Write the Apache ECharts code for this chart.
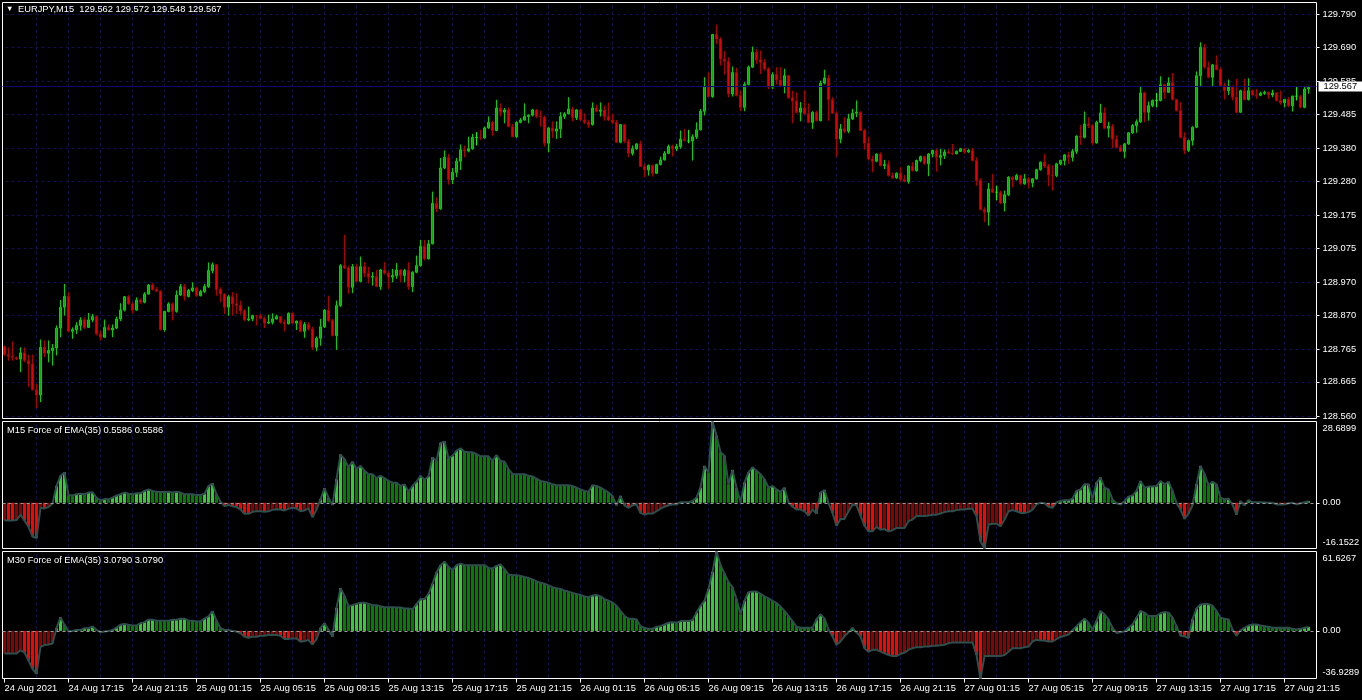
<!DOCTYPE html>
<html><head><meta charset="utf-8">
<script src="https://cdn.jsdelivr.net/npm/echarts@6/dist/echarts.min.js"></script>
<style>html,body{margin:0;padding:0;background:#000;}#c{width:1362px;height:700px;}</style>
</head><body><div id="c"></div>
<script>
// ---------- texts ----------
const symbolTitle = 'EURJPY,M15  129.562 129.572 129.548 129.567';
const force15Title = 'M15 Force of EMA(35) 0.5586 0.5586';
const force30Title = 'M30 Force of EMA(35) 3.0790 3.0790';
// ---------- axis ticks ----------
const timeLabels = ['24 Aug 2021','24 Aug 17:15','24 Aug 21:15','25 Aug 01:15','25 Aug 05:15','25 Aug 09:15','25 Aug 13:15','25 Aug 17:15','25 Aug 21:15','26 Aug 01:15','26 Aug 05:15','26 Aug 09:15','26 Aug 13:15','26 Aug 17:15','26 Aug 21:15','27 Aug 01:15','27 Aug 05:15','27 Aug 09:15','27 Aug 13:15','27 Aug 17:15','27 Aug 21:15'];
const timeLabelBars = [0,16,32,48,64,80,96,112,128,144,160,176,192,208,224,240,256,272,288,304,320];
const gridBars = [8,16,24,32,40,48,56,64,72,80,88,96,104,112,120,128,136,144,152,160,168,176,184,192,200,208,216,224,232,240,248,256,264,272,280,288,296,304,312,320];
const priceTicks = [128.560,128.665,128.765,128.870,128.970,129.075,129.175,129.280,129.380,129.485,129.585,129.690,129.790];
const priceRange = [128.553, 129.827];
const bidPrice = 129.567;
const force15Range = [-16.1522, 28.6899];
const force30Range = [-36.9289, 61.6267];
const force15AxisLabels = ['28.6899','0.00','-16.1522'];
const force30AxisLabels = ['61.6267','0.00','-36.9289'];
// ---------- candles: [open, high, low, close], one per M15 bar ----------
const candles = [
[128.773,128.777,128.745,128.749],[128.749,128.771,128.730,128.744],[128.744,128.789,128.730,128.739],[128.739,128.743,128.732,128.735],[128.735,128.771,128.695,128.754],[128.754,128.771,128.725,128.730],[128.730,128.749,128.649,128.720],[128.720,128.749,128.639,128.641],[128.641,128.659,128.585,128.625],[128.625,128.795,128.603,128.771],
[128.771,128.792,128.741,128.753],[128.753,128.792,128.725,128.761],[128.761,128.781,128.715,128.769],[128.769,128.838,128.746,128.830],[128.830,128.916,128.802,128.894],[128.894,128.965,128.868,128.927],[128.927,128.940,128.817,128.820],[128.820,128.832,128.797,128.825],[128.825,128.848,128.812,128.838],[128.838,128.863,128.822,128.855],
[128.855,128.863,128.827,128.832],[128.832,128.876,128.830,128.855],[128.855,128.873,128.848,128.865],[128.865,128.868,128.807,128.812],[128.812,128.822,128.792,128.802],[128.802,128.856,128.800,128.832],[128.832,128.841,128.822,128.824],[128.824,128.841,128.802,128.830],[128.830,128.865,128.827,128.858],[128.858,128.906,128.851,128.885],
[128.885,128.928,128.881,128.926],[128.926,128.931,128.902,128.904],[128.904,128.909,128.875,128.885],[128.885,128.924,128.883,128.916],[128.916,128.921,128.904,128.909],[128.909,128.940,128.906,128.934],[128.934,128.965,128.932,128.962],[128.962,128.968,128.945,128.948],[128.948,128.955,128.940,128.943],[128.943,128.946,128.822,128.825],
[128.825,128.883,128.819,128.881],[128.881,128.909,128.878,128.904],[128.904,128.909,128.853,128.881],[128.881,128.945,128.877,128.931],[128.931,128.965,128.929,128.957],[128.957,128.965,128.914,128.927],[128.927,128.950,128.924,128.945],[128.945,128.970,128.940,128.953],[128.953,128.957,128.926,128.929],[128.929,128.947,128.927,128.942],
[128.942,128.965,128.937,128.957],[128.957,129.031,128.953,129.006],[129.006,129.031,128.998,129.024],[129.024,129.026,128.929,128.948],[128.948,128.955,128.909,128.934],[128.934,128.936,128.873,128.894],[128.894,128.931,128.868,128.926],[128.926,128.940,128.868,128.904],[128.904,128.936,128.873,128.899],[128.899,128.914,128.871,128.883],
[128.883,128.888,128.851,128.855],[128.855,128.896,128.851,128.858],[128.858,128.871,128.851,128.868],[128.868,128.869,128.838,128.867],[128.867,128.873,128.858,128.860],[128.860,128.865,128.830,128.845],[128.845,128.871,128.843,128.848],[128.848,128.875,128.841,128.858],[128.858,128.871,128.856,128.865],[128.865,128.867,128.843,128.848],
[128.848,128.856,128.820,128.843],[128.843,128.878,128.841,128.875],[128.875,128.878,128.843,128.845],[128.845,128.853,128.824,128.851],[128.851,128.855,128.817,128.820],[128.820,128.848,128.800,128.841],[128.841,128.848,128.822,128.827],[128.827,128.834,128.763,128.771],[128.771,128.804,128.759,128.799],[128.799,128.858,128.776,128.834],
[128.834,128.888,128.830,128.885],[128.885,128.929,128.848,128.853],[128.853,128.858,128.804,128.807],[128.807,128.914,128.763,128.899],[128.899,129.026,128.894,129.021],[129.021,129.116,129.011,129.014],[129.014,129.021,128.935,128.955],[128.955,129.026,128.937,129.018],[129.018,129.026,128.970,128.973],[128.973,129.049,128.970,129.018],
[129.018,129.032,128.986,128.998],[128.998,129.018,128.967,128.986],[128.986,129.001,128.960,128.988],[128.988,129.008,128.955,128.957],[128.957,129.011,128.947,129.008],[129.008,129.032,128.994,128.998],[128.998,129.004,128.950,128.986],[128.986,129.011,128.970,128.991],[128.991,129.029,128.981,129.008],[129.008,129.011,128.970,128.991],
[128.991,129.011,128.970,129.006],[129.006,129.032,128.947,128.957],[128.957,129.004,128.940,129.001],[129.001,129.052,128.998,129.021],[129.021,129.100,129.018,129.080],[129.080,129.100,129.037,129.042],[129.042,129.100,129.040,129.088],[129.088,129.248,129.086,129.212],[129.212,129.231,129.185,129.195],[129.195,129.351,129.192,129.320],
[129.320,129.374,129.317,129.353],[129.353,129.363,129.269,129.284],[129.284,129.320,129.271,129.307],[129.307,129.351,129.292,129.341],[129.341,129.392,129.314,129.376],[129.376,129.389,129.353,129.372],[129.372,129.416,129.368,129.379],[129.379,129.425,129.376,129.414],[129.414,129.430,129.389,129.414],[129.414,129.437,129.406,129.412],
[129.412,129.447,129.410,129.443],[129.443,129.478,129.440,129.460],[129.460,129.465,129.419,129.435],[129.435,129.529,129.433,129.504],[129.504,129.518,129.478,129.491],[129.491,129.504,129.457,129.498],[129.498,129.506,129.445,129.447],[129.447,129.455,129.414,129.416],[129.416,129.463,129.412,129.460],[129.460,129.473,129.457,129.467],
[129.467,129.518,129.465,129.478],[129.478,129.484,129.457,129.482],[129.482,129.501,129.478,129.498],[129.498,129.501,129.473,129.478],[129.478,129.496,129.447,129.476],[129.476,129.481,129.386,129.396],[129.396,129.445,129.368,129.443],[129.443,129.463,129.412,129.433],[129.433,129.463,129.409,129.440],[129.440,129.491,129.412,129.478],
[129.478,129.491,129.470,129.486],[129.486,129.537,129.484,129.501],[129.501,129.508,129.463,129.474],[129.474,129.501,129.467,129.498],[129.498,129.501,129.465,129.467],[129.467,129.488,129.455,129.460],[129.460,129.467,129.443,129.453],[129.453,129.521,129.450,129.504],[129.504,129.514,129.491,129.494],[129.494,129.521,129.478,129.498],
[129.498,129.511,129.465,129.478],[129.478,129.521,129.465,129.467],[129.467,129.486,129.455,129.460],[129.460,129.467,129.396,129.399],[129.399,129.455,129.396,129.453],[129.453,129.455,129.396,129.402],[129.402,129.409,129.353,129.365],[129.365,129.389,129.358,129.379],[129.379,129.396,129.376,129.394],[129.394,129.404,129.323,129.325],
[129.325,129.333,129.292,129.314],[129.314,129.331,129.297,129.328],[129.328,129.331,129.294,129.304],[129.304,129.333,129.302,129.331],[129.331,129.355,129.328,129.345],[129.345,129.372,129.343,129.365],[129.365,129.392,129.363,129.386],[129.386,129.392,129.355,129.379],[129.379,129.394,129.372,129.386],[129.386,129.435,129.379,129.409],
[129.409,129.440,129.402,129.404],[129.403,129.437,129.396,129.403],[129.403,129.423,129.343,129.416],[129.416,129.460,129.409,129.437],[129.437,129.501,129.435,129.494],[129.494,129.598,129.481,129.570],[129.570,129.613,129.537,129.539],[129.539,129.731,129.535,129.729],[129.729,129.759,129.700,129.715],[129.715,129.721,129.634,129.654],
[129.654,129.678,129.606,129.647],[129.647,129.659,129.537,129.547],[129.547,129.631,129.539,129.613],[129.613,129.627,129.539,129.542],[129.542,129.557,129.494,129.506],[129.506,129.583,129.494,129.576],[129.576,129.634,129.573,129.629],[129.629,129.692,129.627,129.675],[129.675,129.685,129.639,129.651],[129.651,129.680,129.608,129.644],
[129.644,129.654,129.618,129.624],[129.624,129.629,129.562,129.568],[129.568,129.613,129.562,129.606],[129.606,129.629,129.576,129.590],[129.590,129.629,129.568,129.573],[129.573,129.624,129.549,129.603],[129.603,129.605,129.532,129.535],[129.535,129.557,129.457,129.525],[129.525,129.552,129.486,129.491],[129.491,129.522,129.463,129.504],
[129.504,129.557,129.484,129.486],[129.486,129.518,129.457,129.460],[129.460,129.494,129.440,129.491],[129.491,129.496,129.463,129.465],[129.465,129.588,129.463,129.580],[129.580,129.621,129.576,129.596],[129.596,129.606,129.465,129.529],[129.529,129.537,129.486,129.488],[129.488,129.494,129.355,129.409],[129.409,129.455,129.396,129.440],
[129.440,129.476,129.427,129.433],[129.433,129.486,129.427,129.471],[129.471,129.501,129.467,129.488],[129.488,129.527,129.476,129.491],[129.491,129.494,129.433,129.435],[129.435,129.440,129.376,129.396],[129.396,129.416,129.343,129.348],[129.348,129.358,129.307,129.341],[129.341,129.365,129.338,129.363],[129.363,129.368,129.325,129.328],
[129.328,129.345,129.317,129.331],[129.331,129.343,129.294,129.297],[129.297,129.307,129.287,129.290],[129.290,129.307,129.287,129.304],[129.304,129.323,129.279,129.285],[129.285,129.299,129.277,129.279],[129.279,129.328,129.272,129.326],[129.326,129.338,129.309,129.312],[129.312,129.346,129.309,129.343],[129.343,129.358,129.338,129.355],
[129.355,129.358,129.330,129.333],[129.333,129.366,129.295,129.363],[129.363,129.376,129.353,129.374],[129.374,129.379,129.309,129.353],[129.353,129.379,129.328,129.358],[129.358,129.377,129.348,129.369],[129.369,129.377,129.363,129.366],[129.366,129.394,129.360,129.364],[129.364,129.374,129.362,129.371],[129.371,129.381,129.369,129.379],
[129.379,129.381,129.363,129.369],[129.369,129.379,129.367,129.374],[129.374,129.381,129.340,129.343],[129.343,129.353,129.266,129.282],[129.282,129.289,129.190,129.193],[129.193,129.200,129.154,129.185],[129.185,129.274,129.144,129.256],[129.256,129.302,129.244,129.246],[129.246,129.266,129.221,129.246],[129.246,129.251,129.210,129.213],
[129.213,129.251,129.187,129.238],[129.238,129.295,129.234,129.292],[129.292,129.295,129.261,129.285],[129.285,129.302,129.282,129.297],[129.297,129.299,129.269,129.272],[129.272,129.302,129.269,129.287],[129.287,129.292,129.258,129.275],[129.275,129.289,129.261,129.287],[129.287,129.318,129.285,129.315],[129.315,129.340,129.312,129.338],
[129.338,129.363,129.320,129.326],[129.326,129.333,129.264,129.299],[129.299,129.328,129.251,129.297],[129.297,129.336,129.292,129.333],[129.333,129.346,129.328,129.343],[129.343,129.363,129.328,129.360],[129.360,129.369,129.333,129.353],[129.353,129.379,129.340,129.371],[129.371,129.420,129.363,129.418],[129.418,129.452,129.391,129.414],
[129.414,129.493,129.411,129.455],[129.455,129.476,129.442,129.450],[129.450,129.455,129.391,129.397],[129.397,129.465,129.395,129.460],[129.460,129.517,129.458,129.489],[129.489,129.506,129.440,129.442],[129.442,129.462,129.414,129.448],[129.448,129.455,129.381,129.409],[129.409,129.420,129.381,129.384],[129.384,129.391,129.369,129.371],
[129.371,129.397,129.350,129.394],[129.394,129.430,129.391,129.428],[129.428,129.455,129.425,129.450],[129.450,129.469,129.428,129.462],[129.462,129.571,129.458,129.550],[129.550,129.554,129.460,129.491],[129.491,129.524,129.465,129.511],[129.511,129.530,129.506,129.527],[129.527,129.550,129.506,129.527],[129.527,129.601,129.524,129.575],
[129.575,129.578,129.532,129.552],[129.552,129.598,129.550,129.581],[129.581,129.611,129.527,129.530],[129.530,129.532,129.493,129.496],[129.496,129.522,129.411,129.414],[129.414,129.430,129.363,129.374],[129.374,129.407,129.369,129.404],[129.404,129.448,129.389,129.445],[129.445,129.616,129.442,129.603],[129.603,129.705,129.568,129.690],
[129.690,129.700,129.624,129.629],[129.629,129.646,129.595,129.598],[129.598,129.639,129.568,129.636],[129.636,129.665,129.619,129.622],[129.622,129.629,129.571,129.573],[129.573,129.581,129.530,129.557],[129.557,129.591,129.544,129.568],[129.568,129.573,129.527,129.537],[129.537,129.593,129.489,129.491],[129.491,129.560,129.489,129.557],
[129.557,129.593,129.527,129.530],[129.530,129.595,129.527,129.557],[129.557,129.560,129.542,129.544],[129.544,129.562,129.532,129.543],[129.543,129.554,129.540,129.549],[129.549,129.557,129.544,129.552],[129.552,129.554,129.532,129.544],[129.544,129.560,129.537,129.550],[129.550,129.552,129.524,129.527],[129.527,129.557,129.514,129.520],
[129.520,129.532,129.506,129.530],[129.530,129.537,129.506,129.511],[129.511,129.542,129.493,129.540],[129.540,129.568,129.527,129.540],[129.540,129.544,129.503,129.506],[129.506,129.568,129.503,129.562],[129.562,129.572,129.548,129.567]
];
// ---------- M15 Force of EMA(35), one value per M15 bar ----------
const force15 = [
-6.2,-6.3,-6.3,-6.1,-4.2,-6.3,-8.5,-11.9,-12.5,-1.8,
-2.0,-1.5,-0.3,5.9,9.5,10.7,2.7,2.6,3.0,3.2,
3.0,3.6,3.7,1.8,0.8,1.3,1.2,1.8,2.5,3.0,
3.6,3.2,3.0,3.4,3.4,4.2,4.7,4.2,3.9,3.8,
3.8,3.9,3.6,3.9,3.6,3.0,3.0,3.0,2.7,2.7,
3.2,5.9,6.8,3.0,0.4,-1.2,-0.8,-1.2,-1.5,-2.4,
-3.9,-3.9,-3.2,-3.0,-3.0,-3.2,-3.0,-2.5,-2.3,-2.4,
-2.7,-2.1,-1.8,-2.0,-3.0,-2.7,-2.0,-5.1,-2.4,1.2,
5.1,1.8,-0.8,8.3,17.0,15.4,12.5,14.5,11.9,13.0,
11.3,10.1,10.1,8.7,9.5,8.7,7.7,7.1,7.1,5.9,
6.5,3.8,5.9,7.4,9.5,8.1,9.3,16.0,14.8,21.1,
21.6,15.7,16.6,18.4,19.2,18.0,17.8,17.8,17.2,16.4,
16.4,16.4,14.8,16.8,14.8,14.5,11.9,10.1,10.1,10.1,
10.1,9.5,9.3,8.5,7.7,7.4,7.1,6.5,6.2,6.2,
6.2,6.2,5.9,5.3,4.7,4.2,3.8,6.2,5.9,5.3,
4.5,3.6,2.4,-0.9,2.4,-0.9,-1.8,-0.9,-0.6,-3.6,
-4.2,-3.8,-3.8,-3.0,-2.1,-1.4,-0.9,-0.6,-0.6,0.2,
0.2,0.2,0.6,1.8,5.3,13.0,10.7,28.69,23.7,17.8,
16.6,6.5,11.6,5.3,0.2,7.1,10.7,12.5,11.3,10.1,
8.3,5.3,5.9,4.7,3.8,5.3,0.1,-1.4,-2.4,-2.4,
-3.0,-4.5,-2.4,-3.8,3.6,4.5,-0.1,-3.6,-8.1,-5.7,
-5.7,-3.0,-0.7,-0.9,-4.5,-8.1,-10.1,-10.1,-8.5,-9.5,
-9.3,-10.1,-9.7,-8.9,-8.9,-8.9,-6.5,-5.9,-4.7,-4.7,
-4.7,-4.5,-4.2,-4.2,-3.8,-3.3,-3.0,-3.0,-2.6,-2.4,
-2.4,-2.1,-2.1,-4.7,-13.6,-16.15,-7.7,-7.4,-7.4,-8.3,
-5.9,-3.0,-2.6,-3.0,-3.6,-3.6,-3.3,-2.4,-0.6,0.05,
-0.2,-1.4,-1.8,0.1,0.6,0.9,0.9,1.4,4.2,4.7,
6.5,6.5,1.2,7.1,8.9,5.3,4.7,1.2,-0.2,-0.6,
0.6,2.1,2.6,4.2,7.7,5.3,5.7,5.7,5.9,7.7,
6.5,7.4,4.2,-0.1,-2.4,-5.7,-3.8,-0.9,6.5,13.0,
10.1,6.2,7.4,6.5,1.8,1.2,1.4,-0.6,-4.2,0.6,
-0.9,0.9,0.2,0.2,0.2,0.1,0.0,0.0,-0.6,-0.6,
-0.6,-0.2,0.0,-0.6,-0.2,0.2,0.5586
];
// ---------- M30 Force of EMA(35), as drawn on each M15 bar ----------
const force30 = [
-17.6,-17.6,-17.6,-17.6,-15.0,-16.8,-22.9,-29.5,-33.4,-12.4,
-11.0,-10.5,-9.7,2.1,10.5,4.7,-0.5,0.0,0.8,0.8,
2.1,2.1,3.4,0.8,-1.0,-0.5,0.0,0.8,2.6,4.7,
5.3,4.7,4.2,4.2,6.0,6.8,8.7,8.7,7.9,7.9,
7.9,7.9,8.7,8.7,9.5,9.5,7.9,7.9,7.4,7.4,
9.5,11.3,15.3,7.9,2.1,0.8,0.8,0.0,-0.5,-1.8,
-4.5,-5.3,-4.5,-4.5,-3.7,-3.7,-3.2,-3.2,-3.2,-3.7,
-6.3,-6.3,-5.8,-5.8,-8.4,-7.9,-7.1,-10.5,-6.3,2.1,
6.0,0.8,-4.5,17.9,33.2,27.1,19.2,20.0,21.0,21.8,
21.8,21.0,20.0,20.0,19.2,18.4,18.4,18.4,18.2,18.2,
17.4,17.4,16.8,20.8,24.7,24.7,28.7,36.6,45.3,51.0,
53.7,49.7,47.0,51.0,52.1,51.0,51.0,51.0,51.0,51.0,
51.0,48.9,48.4,50.5,51.6,47.9,43.7,43.2,43.2,42.6,
41.8,41.1,40.0,38.4,37.4,36.6,35.3,33.9,33.2,32.6,
31.3,30.5,29.5,28.7,27.9,26.8,26.1,27.4,27.9,26.8,
24.7,23.4,22.1,19.5,15.5,11.6,9.5,9.5,8.9,3.7,
2.4,1.6,1.6,3.2,3.7,5.0,6.3,6.8,6.3,7.6,
7.6,7.6,8.4,14.2,19.5,23.4,32.6,45.8,61.63,51.0,
44.5,37.9,33.9,24.7,12.9,23.4,30.0,30.5,30.5,28.7,
26.8,25.3,23.4,21.6,18.9,15.5,11.6,7.6,3.2,2.4,
2.4,2.4,2.4,8.9,12.9,9.5,1.1,-4.2,-10.8,-8.2,
-4.2,-1.1,2.4,-1.1,-4.2,-13.4,-16.1,-14.7,-14.7,-16.1,
-17.4,-18.7,-19.5,-19.5,-17.9,-16.8,-14.7,-13.4,-12.6,-12.6,
-12.1,-12.1,-11.6,-11.6,-11.1,-10.8,-9.5,-8.9,-8.9,-8.9,
-8.9,-8.9,-8.9,-18.7,-36.93,-19.5,-19.5,-19.5,-19.5,-19.5,
-18.7,-16.1,-13.4,-13.4,-13.4,-12.6,-12.1,-8.2,-6.8,-7.4,
-7.4,-8.2,-8.2,-6.3,-4.7,-3.7,-2.9,0.5,3.7,6.8,
9.5,6.3,1.1,7.6,15.5,12.9,8.9,2.4,-1.6,-1.1,
-0.3,2.4,5.0,10.3,15.5,14.2,11.6,11.6,11.6,13.7,
14.7,14.2,10.3,3.7,-3.7,-4.2,-5.5,8.9,17.4,20.5,
20.8,20.8,19.5,15.5,10.3,9.5,8.9,1.1,-3.7,0.5,
2.4,4.2,5.0,5.0,4.2,3.7,3.2,2.4,2.4,2.4,
2.4,2.4,1.6,1.1,1.6,2.4,3.079
];

// ---------- styles ----------
const FONT = 'Tahoma, "Liberation Sans", Arial, sans-serif';
const FS = 9.3;
const GRIDC = '#12124e';
const BULL_FILL = '#00b400', BULL_LINE = '#00d400';
const BEAR_FILL = '#e80000', BEAR_LINE = '#b00000';
const DOJI = '#00ff00';
const UP_RISE = '#32cd32', UP_FALL = '#008000', DN_FALL = '#ff0000', DN_RISE = '#8b0000';
const LINEC = '#2f4f4f';

function histColors(vals) {
  const out = []; let prev = null;
  vals.forEach((v, i) => {
    const p = i > 0 ? vals[i - 1] : v;
    let c;
    if (v >= 0) c = v > p ? UP_RISE : v < p ? UP_FALL : (prev === UP_RISE || prev === UP_FALL ? prev : UP_RISE);
    else c = v < p ? DN_FALL : v > p ? DN_RISE : (prev === DN_FALL || prev === DN_RISE ? prev : DN_RISE);
    out.push(c); prev = c;
  });
  return out;
}
function histData(vals) {
  const cols = histColors(vals);
  return vals.map((v, i) => ({ value: [i, v], itemStyle: { color: cols[i] } }));
}
const candleData = candles.map((r, i) => {
  const item = { value: [i, r[0], r[3], r[2], r[1]] };
  if (r[0] === r[3]) item.itemStyle = { color: DOJI, color0: DOJI, borderColor: DOJI, borderColor0: DOJI, borderColorDoji: DOJI };
  return item;
});

const X0 = -0.5, X1 = 328;
const grids = [
  { left: 2.5, width: 1314, top: 2.5, height: 416 },
  { left: 2.5, width: 1314, top: 421.5, height: 127 },
  { left: 2.5, width: 1314, top: 551.5, height: 127 }
].map(g => Object.assign(g, { show: true, borderColor: '#ffffff', borderWidth: 1, backgroundColor: 'transparent', containLabel: false, outerBoundsMode: 'none' }));

const dashStyle = { color: GRIDC, type: [3, 3], dashOffset: 3, width: 1 };
const noLine = { show: false, onZero: false };
function gridX(idx) {
  return { type: 'value', gridIndex: idx, min: X0, max: X1, axisLine: noLine,
    axisTick: { show: false, customValues: gridBars }, axisLabel: { show: false },
    splitLine: { show: true, lineStyle: dashStyle } };
}
function panelY(idx, range, labels, dMax, dMin) {
  const vals = [range[1] - dMax, 0, range[0] + dMin];
  return { type: 'value', gridIndex: idx, position: 'right', min: range[0], max: range[1],
    axisLine: noLine,
    axisTick: { show: true, customValues: [0], length: 3, lineStyle: { color: '#ffffff' } },
    axisLabel: { customValues: vals, color: '#ffffff', fontSize: FS, fontFamily: FONT, margin: 6,
      formatter: v => labels[vals.indexOf(v)] },
    splitLine: { show: false } };
}
const txt = (text, left, top, size) => ({ text, left, top, padding: 0,
  textStyle: { color: '#ffffff', fontSize: size || FS, fontWeight: 'normal', fontFamily: FONT } });

const chart = echarts.init(document.getElementById('c'), null, { renderer: 'canvas' });
chart.setOption({
  backgroundColor: '#000000',
  animation: false,
  title: [ txt('▼', 6, 5, 7.5), txt(symbolTitle, 18, 5), txt(force15Title, 7, 426), txt(force30Title, 7, 556) ],
  grid: grids,
  xAxis: [ gridX(0), gridX(1), gridX(2),
    { type: 'value', gridIndex: 2, position: 'bottom', min: X0, max: X1, axisLine: noLine,
      axisTick: { show: true, customValues: timeLabelBars, length: 4, lineStyle: { color: '#ffffff' } },
      axisLabel: { customValues: timeLabelBars, color: '#ffffff', fontSize: FS, fontFamily: FONT, align: 'left', margin: 5,
        formatter: v => timeLabels[timeLabelBars.indexOf(v)] },
      splitLine: { show: false } } ],
  yAxis: [
    { type: 'value', gridIndex: 0, position: 'right', min: priceRange[0], max: priceRange[1],
      axisLine: noLine,
      axisTick: { show: true, customValues: priceTicks, length: 3, lineStyle: { color: '#ffffff' } },
      axisLabel: { customValues: priceTicks, color: '#ffffff', fontSize: FS, fontFamily: FONT, margin: 6, formatter: v => v.toFixed(3) },
      splitLine: { show: true, lineStyle: dashStyle } },
    panelY(1, force15Range, force15AxisLabels, 2.5, 2.1),
    panelY(2, force30Range, force30AxisLabels, 5.4, 4.6)
  ],
  series: [
    { type: 'candlestick', xAxisIndex: 0, yAxisIndex: 0, data: candleData, encode: { x: 0, y: [1, 2, 3, 4] },
      barWidth: 2, itemStyle: { color: BULL_FILL, color0: BEAR_FILL, borderColor: BULL_LINE, borderColor0: BEAR_LINE, borderColorDoji: DOJI, borderWidth: 1 },
      markLine: { silent: true, symbol: 'none', animation: false,
        lineStyle: { color: '#0c0c6e', type: 'solid', width: 1 },
        label: { show: true, position: 'end', distance: 2, formatter: bidPrice.toFixed(3), color: '#000000', backgroundColor: '#ffffff',
          padding: [1, 5, 0, 5], fontSize: FS, fontFamily: FONT },
        data: [{ yAxis: bidPrice }] } },
    { type: 'bar', xAxisIndex: 1, yAxisIndex: 1, data: histData(force15), barWidth: 3 },
    { type: 'line', xAxisIndex: 1, yAxisIndex: 1, data: force15.map((v, i) => [i, v]), showSymbol: false, z: 4,
      lineStyle: { color: LINEC, width: 2 },
      markLine: { silent: true, symbol: 'none', label: { show: false }, lineStyle: { color: '#9a9a9a', type: [3, 3], width: 1 }, data: [{ yAxis: 0 }] } },
    { type: 'bar', xAxisIndex: 2, yAxisIndex: 2, data: histData(force30), barWidth: 3 },
    { type: 'line', xAxisIndex: 2, yAxisIndex: 2, data: force30.map((v, i) => [i, v]), showSymbol: false, z: 4,
      lineStyle: { color: LINEC, width: 2 },
      markLine: { silent: true, symbol: 'none', label: { show: false }, lineStyle: { color: '#9a9a9a', type: [3, 3], width: 1 }, data: [{ yAxis: 0 }] } }
  ]
});
</script></body></html>
